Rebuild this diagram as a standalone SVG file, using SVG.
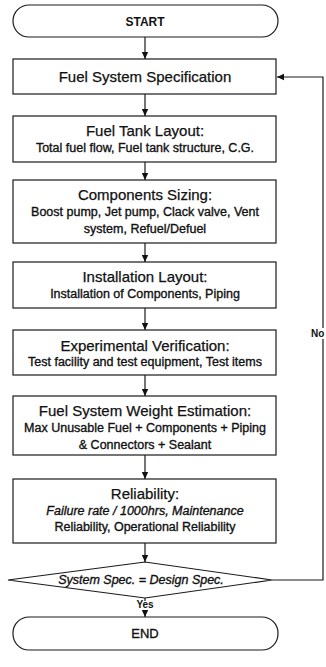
<svg xmlns="http://www.w3.org/2000/svg" width="326" height="667" viewBox="0 0 326 667">
<defs>
<marker id="ah" markerWidth="8" markerHeight="8" refX="7" refY="4" orient="auto" markerUnits="userSpaceOnUse">
<path d="M0,0.8 L7,4 L0,7.2 Z" fill="#111"/>
</marker>
<style>
.box{fill:#fff;stroke:#1a1a1a;stroke-width:1.2}
.ln{fill:none;stroke:#1a1a1a;stroke-width:1.2}
.t{font-family:"Liberation Sans",Arial,sans-serif;font-size:15px;fill:#111;stroke:#111;stroke-width:0.25;text-anchor:middle}
.s{font-family:"Liberation Sans",Arial,sans-serif;font-size:12.5px;fill:#111;stroke:#111;stroke-width:0.35;text-anchor:middle}
.i{font-style:italic}
.sm{font-family:"Liberation Sans",Arial,sans-serif;font-size:10px;font-weight:bold;fill:#111;text-anchor:middle}
</style>
</defs>
<rect width="326" height="667" fill="#fff"/>
<g id="connectors">
<line class="ln" x1="145" y1="37" x2="145" y2="59" marker-end="url(#ah)"/>
<line class="ln" x1="145" y1="94" x2="145" y2="116" marker-end="url(#ah)"/>
<line class="ln" x1="145" y1="162" x2="145" y2="180" marker-end="url(#ah)"/>
<line class="ln" x1="145" y1="243" x2="145" y2="262" marker-end="url(#ah)"/>
<line class="ln" x1="145" y1="308" x2="145" y2="330" marker-end="url(#ah)"/>
<line class="ln" x1="145" y1="375" x2="145" y2="396" marker-end="url(#ah)"/>
<line class="ln" x1="145" y1="455" x2="145" y2="479" marker-end="url(#ah)"/>
<line class="ln" x1="145" y1="543" x2="145" y2="562" marker-end="url(#ah)"/>
<line class="ln" x1="145" y1="598" x2="145" y2="601"/>
<line class="ln" x1="145" y1="610" x2="145" y2="617" marker-end="url(#ah)"/>
<text class="sm" x="145" y="608">Yes</text>
<polyline class="ln" points="272,580 323,580 323,339"/>
<polyline class="ln" points="323,328 323,77 277,77" marker-end="url(#ah)"/>
<text class="sm" x="311" y="337" style="text-anchor:start">No</text>
</g>
<g id="start">
<rect class="box" x="13" y="5" width="265" height="32" rx="16"/>
<text class="s" x="145" y="26" style="font-weight:bold;font-size:12px;stroke-width:0">START</text>
</g>
<g id="spec">
<rect class="box" x="13" y="59" width="263" height="35"/>
<text class="t" x="145" y="82">Fuel System Specification</text>
</g>
<g id="tank">
<rect class="box" x="13" y="116" width="263" height="46"/>
<text class="t" x="145" y="136">Fuel Tank Layout:</text>
<text class="s" x="145" y="152">Total fuel flow, Fuel tank structure, C.G.</text>
</g>
<g id="sizing">
<rect class="box" x="13" y="180" width="263" height="63"/>
<text class="t" x="145" y="200">Components Sizing:</text>
<text class="s" x="145" y="216">Boost pump, Jet pump, Clack valve, Vent</text>
<text class="s" x="145" y="233">system, Refuel/Defuel</text>
</g>
<g id="install">
<rect class="box" x="13" y="262" width="263" height="46"/>
<text class="t" x="145" y="282">Installation Layout:</text>
<text class="s" x="145" y="298">Installation of Components, Piping</text>
</g>
<g id="experiment">
<rect class="box" x="13" y="330" width="263" height="45"/>
<text class="t" x="145" y="351">Experimental Verification:</text>
<text class="s" x="145" y="366">Test facility and test equipment, Test items</text>
</g>
<g id="weight">
<rect class="box" x="13" y="396" width="263" height="59"/>
<text class="t" x="145" y="416">Fuel System Weight Estimation:</text>
<text class="s" x="145" y="432">Max Unusable Fuel + Components + Piping</text>
<text class="s" x="145" y="449">&amp; Connectors + Sealant</text>
</g>
<g id="reliability">
<rect class="box" x="13" y="479" width="263" height="64"/>
<text class="t" x="145" y="499">Reliability:</text>
<text class="s i" x="145" y="515">Failure rate / 1000hrs, Maintenance</text>
<text class="s" x="145" y="531">Reliability, Operational Reliability</text>
</g>
<g id="decision">
<polygon class="box" points="8,580 145,562 272,580 145,598"/>
<text class="s i" x="141" y="584">System Spec. = Design Spec.</text>
</g>
<g id="end">
<rect class="box" x="13" y="617" width="265" height="33" rx="16"/>
<text class="s" x="145" y="638" style="font-size:13px">END</text>
</g>
</svg>
